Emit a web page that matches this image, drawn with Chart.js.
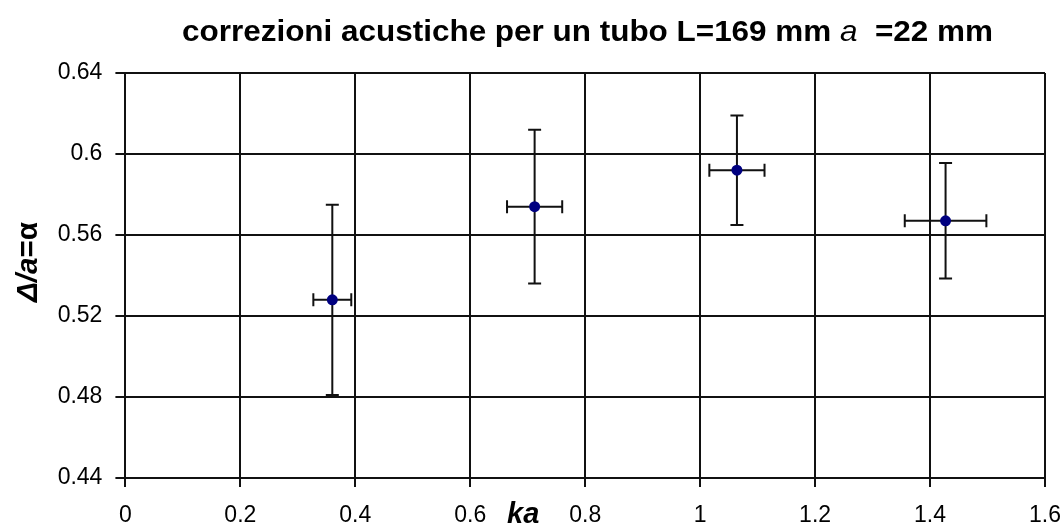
<!DOCTYPE html>
<html>
<head>
<meta charset="utf-8">
<script src="https://cdn.jsdelivr.net/npm/chart.js@4.4.0/dist/chart.umd.min.js"></script>
<style>
  html, body { margin: 0; padding: 0; background: #fff; }
  #c { display: block; }
</style>
</head>
<body>
<canvas id="c" width="1063" height="532"></canvas>
<script>
// ─────────────────────────────────────────
// DATA
// ─────────────────────────────────────────
const kaValues    = [0.360, 0.712, 1.064, 1.427];
const alphaValues = [0.528, 0.574, 0.592, 0.567];
const kaErr       = [0.033, 0.048, 0.048, 0.071];
const alphaErr    = [0.047, 0.038, 0.027, 0.0285];

const xTicks = [0, 0.2, 0.4, 0.6, 0.8, 1, 1.2, 1.4, 1.6];
const yTicks = [0.44, 0.48, 0.52, 0.56, 0.6, 0.64];

const titleParts = [
  { text: 'correzioni acustiche per un tubo L=169 mm ', font: 'bold' },
  { text: 'a', font: 'italic' },
  { text: '  =22 mm', font: 'bold' },
];
const yTitleParts = [
  { text: 'Δ/a', font: 'italic bold' },
  { text: '=α', font: 'bold' },
];
const xTitle = 'ka';

// ─────────────────────────────────────────
// STYLE
// ─────────────────────────────────────────
const FONT = "'Liberation Sans', Arial, sans-serif";
const LINE = '#111';
const MARKER = '#000080';
const CAP = 6.5;

// draw a run of mixed-style text, squeezed to a target width
function drawRich(ctx, parts, size, width) {
  let total = 0;
  parts.forEach(p => {
    ctx.font = `${p.font} ${size}px ${FONT}`;
    p.w = ctx.measureText(p.text).width;
    total += p.w;
  });
  const sx = width ? width / total : 1;
  ctx.scale(sx, 1);
  let x = 0;
  parts.forEach(p => {
    ctx.font = `${p.font} ${size}px ${FONT}`;
    ctx.fillText(p.text, x, 0);
    x += p.w;
  });
  return total * sx;
}

// ─────────────────────────────────────────
// PLUGINS
// ─────────────────────────────────────────
const errorBars = {
  id: 'errorBars',
  beforeDatasetsDraw(chart) {
    const { ctx, scales: { x, y } } = chart;
    ctx.save();
    ctx.strokeStyle = LINE;
    ctx.lineWidth = 2;
    kaValues.forEach((k, i) => {
      const a = alphaValues[i];
      const px = x.getPixelForValue(k);
      const py = y.getPixelForValue(a);
      const xl = x.getPixelForValue(k - kaErr[i]);
      const xr = x.getPixelForValue(k + kaErr[i]);
      const yt = y.getPixelForValue(a + alphaErr[i]);
      const yb = y.getPixelForValue(a - alphaErr[i]);
      ctx.beginPath();
      ctx.moveTo(xl, py); ctx.lineTo(xr, py);
      ctx.moveTo(xl, py - CAP); ctx.lineTo(xl, py + CAP);
      ctx.moveTo(xr, py - CAP); ctx.lineTo(xr, py + CAP);
      ctx.moveTo(px, yt); ctx.lineTo(px, yb);
      ctx.moveTo(px - CAP, yt); ctx.lineTo(px + CAP, yt);
      ctx.moveTo(px - CAP, yb); ctx.lineTo(px + CAP, yb);
      ctx.stroke();
    });
    ctx.restore();
  },
};

const labels = {
  id: 'labels',
  afterDraw(chart) {
    const { ctx } = chart;
    ctx.save();
    ctx.fillStyle = '#000';
    ctx.textBaseline = 'alphabetic';
    ctx.textAlign = 'left';

    // title
    ctx.save();
    ctx.translate(182, 41);
    drawRich(ctx, titleParts, 30, 811);
    ctx.restore();

    // y title, rotated
    ctx.save();
    ctx.translate(37, 302);
    ctx.rotate(-Math.PI / 2);
    drawRich(ctx, yTitleParts, 30, 80);
    ctx.restore();

    // x title, sits among the tick labels
    ctx.font = `italic bold 29px ${FONT}`;
    ctx.fillText(xTitle, 507, 523);
    ctx.restore();
  },
};

// ─────────────────────────────────────────
// CHART
// ─────────────────────────────────────────
new Chart(document.getElementById('c'), {
  type: 'scatter',
  data: {
    datasets: [{
      data: kaValues.map((k, i) => ({ x: k, y: alphaValues[i] })),
      pointRadius: 5.5,
      pointBackgroundColor: MARKER,
      pointBorderColor: MARKER,
      pointBorderWidth: 0,
    }],
  },
  options: {
    responsive: false,
    animation: false,
    events: [],
    layout: { padding: { top: 73, right: 18, left: 0, bottom: 0 } },
    plugins: { legend: { display: false }, tooltip: { enabled: false } },
    scales: {
      x: {
        type: 'linear',
        min: xTicks[0],
        max: xTicks[xTicks.length - 1],
        afterBuildTicks: s => { s.ticks = xTicks.map(v => ({ value: v })); },
        afterFit: s => {
          s.height = 54;
          s.paddingLeft = 0;
          s.paddingRight = 0;
        },
        ticks: {
          color: '#000',
          padding: 15,
          maxRotation: 0,
          font: { family: FONT, size: 23 },
          callback: v => String(+v.toFixed(2)),
        },
        grid: { color: LINE, lineWidth: 2, tickLength: 9 },
        border: { color: LINE, width: 2 },
      },
      y: {
        type: 'linear',
        min: yTicks[0],
        max: yTicks[yTicks.length - 1],
        afterBuildTicks: s => { s.ticks = yTicks.map(v => ({ value: v })); },
        afterFit: s => {
          s.width = 125.4;
          s.paddingTop = 0;
          s.paddingBottom = 0;
        },
        ticks: {
          color: '#000',
          padding: 13,
          font: { family: FONT, size: 23 },
          callback: v => String(+v.toFixed(2)),
        },
        grid: { color: LINE, lineWidth: 2, tickLength: 10 },
        border: { color: LINE, width: 2 },
      },
    },
  },
  plugins: [errorBars, labels],
});
</script>
</body>
</html>
